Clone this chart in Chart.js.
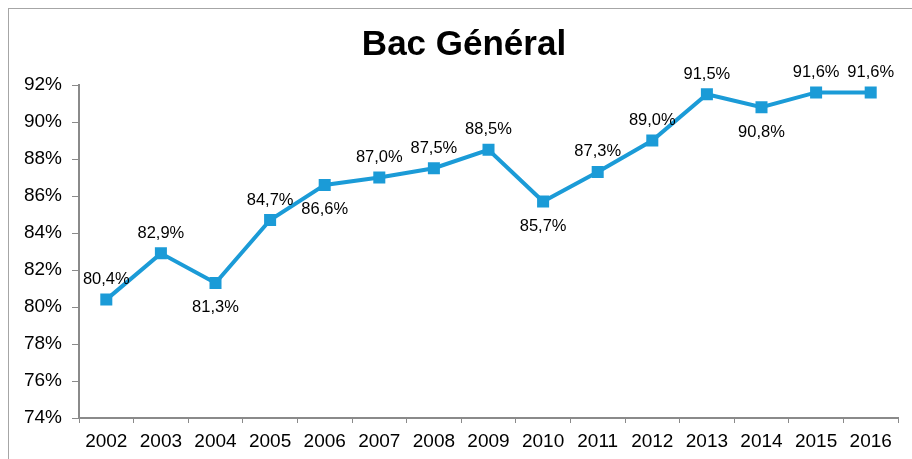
<!DOCTYPE html>
<html>
<head>
<meta charset="utf-8">
<script src="https://cdn.jsdelivr.net/npm/chart.js@4/dist/chart.umd.min.js"></script>
<style>
  body { margin: 0; background: #fff; }
  #box { width: 912px; height: 459px; }
</style>
</head>
<body>
<div id="box"><canvas id="myChart"></canvas></div>
<script>
// data
var years = ['2002', '2003', '2004', '2005', '2006', '2007', '2008', '2009',
             '2010', '2011', '2012', '2013', '2014', '2015', '2016'];
var reussite = [80.4, 82.9, 81.3, 84.7, 86.6, 87.0, 87.5, 88.5,
                85.7, 87.3, 89.0, 91.5, 90.8, 91.6, 91.6];
var yTicks = [74, 76, 78, 80, 82, 84, 86, 88, 90, 92];

var blue = '#1b9bd7';
var axisGrey = '#8a8a8a';
var font = "'Liberation Sans', Arial, sans-serif";

// frame + title + value labels
var decor = {
  id: 'decor',
  beforeDraw: function(chart) {
    var ctx = chart.ctx;
    ctx.save();
    ctx.fillStyle = '#fff';
    ctx.fillRect(0, 0, chart.width, chart.height);
    ctx.strokeStyle = '#a6a6a6';
    ctx.lineWidth = 1;
    ctx.strokeRect(8.5, 8.5, chart.width + 20, chart.height + 20);
    ctx.fillStyle = '#000';
    ctx.font = 'bold 35px ' + font;
    ctx.textAlign = 'center';
    ctx.textBaseline = 'middle';
    ctx.fillText('Bac Général', 464, 45);
    ctx.restore();
  },
  afterDatasetsDraw: function(chart, args, opts) {
    var ctx = chart.ctx;
    var meta = chart.getDatasetMeta(0);
    ctx.save();
    ctx.fillStyle = '#000';
    ctx.font = '16.5px ' + font;
    ctx.textAlign = 'center';
    ctx.textBaseline = 'middle';
    meta.data.forEach(function(pt, i) {
      var v = chart.data.datasets[0].data[i];
      var txt = v.toFixed(1).replace('.', ',') + '%';
      var below = opts.below.indexOf(i) >= 0;
      ctx.fillText(txt, pt.x, below ? pt.y + 25 : pt.y - 20);
    });
    ctx.restore();
  }
};

var element = document.getElementById('myChart').getContext('2d');

var chartData = {
  labels: years,
  datasets: [{
    data: reussite,
    borderColor: blue,
    backgroundColor: blue,
    borderWidth: 4,
    pointStyle: 'rect',
    pointRadius: 8.5,
    pointHoverRadius: 8.5,
    pointBorderWidth: 0,
    tension: 0
  }]
};

var chartOptions = {
  responsive: true,
  maintainAspectRatio: false,
  animation: false,
  layout: { padding: { top: 85, right: 14, left: 0, bottom: 0 } },
  plugins: {
    legend: { display: false },
    title: { display: false },
    tooltip: { enabled: false },
    decor: { below: [2, 4, 8, 12] }
  },
  scales: {
    x: {
      offset: true,
      afterFit: function(s) { s.height = 41; },
      grid: { drawOnChartArea: false, drawTicks: true, tickLength: 5, color: axisGrey, offset: true },
      border: { color: axisGrey, width: 2 },
      ticks: { color: '#000', font: { family: font, size: 19 }, padding: 7, maxRotation: 0 }
    },
    y: {
      min: 74,
      max: 92,
      afterFit: function(s) { s.width = 79; },
      afterBuildTicks: function(s) { s.ticks = yTicks.map(function(v) { return { value: v }; }); },
      grid: { drawOnChartArea: false, drawTicks: true, tickLength: 7, color: axisGrey },
      border: { color: axisGrey, width: 2 },
      ticks: {
        color: '#000',
        font: { family: font, size: 19 },
        padding: 10,
        callback: function(v) { return v + '%'; }
      }
    }
  }
};

var chart = new Chart(element, { type: 'line', data: chartData, options: chartOptions, plugins: [decor] });
</script>
</body>
</html>
